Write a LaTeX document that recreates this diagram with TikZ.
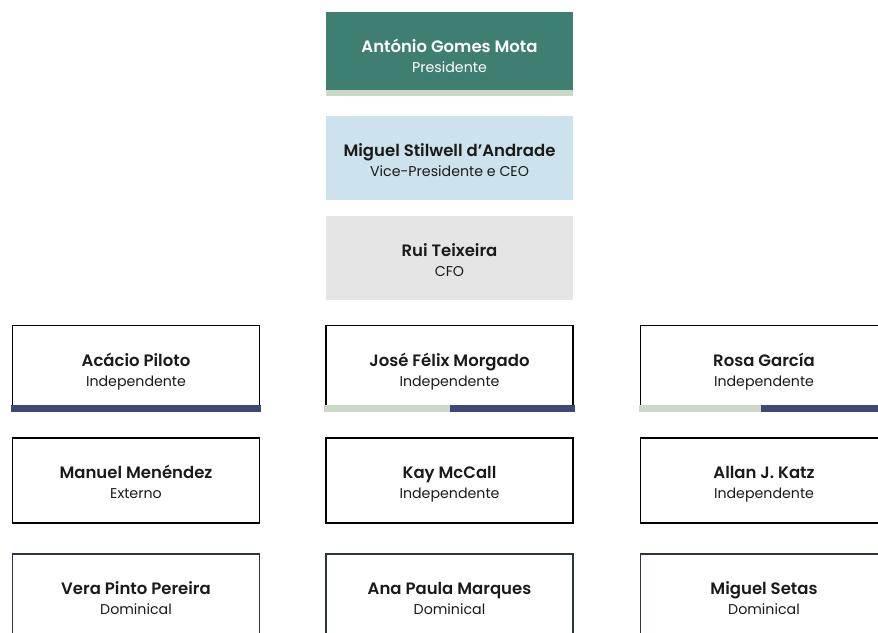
\documentclass[tikz,border=0pt]{standalone}
\usepackage{fontspec}
\setmainfont{Poppins}[BoldFont={Poppins SemiBold}]
\usetikzlibrary{calc}
\definecolor{teal}{HTML}{3F7F72}
\definecolor{lgreen}{HTML}{C9D9C6}
\definecolor{lblue}{HTML}{CCE2EC}
\definecolor{lgrey}{HTML}{E5E5E5}
\definecolor{navy}{HTML}{3B4A74}
\definecolor{dnavy}{HTML}{2B3444}
\definecolor{txt}{HTML}{1A1A1A}
% \cardtext{node}{name}{role}{colour}
\newcommand{\cardtext}[4]{%
  \node[nametext,text=#4] (#1-n) at ($(#1.center)+(0,-2)$) {#2};
  \node[roletext,text=#4] (#1-r) at ($(#1.center)+(0,18)$) {#3};}
\begin{document}
\begin{tikzpicture}[x=1pt,y=-1pt,
  box/.style={minimum width=247pt,minimum height=84pt,inner sep=0pt},
  topbox/.style={box,fill=teal},
  vpbox/.style={box,fill=lblue},
  cfobox/.style={box,fill=lgrey},
  member/.style={box,draw=black,line width=1.6pt,minimum height=85pt},
  dommember/.style={box,draw=dnavy,line width=1.6pt,minimum height=85pt},
  nametext/.style={anchor=base,inner sep=0pt,font=\fontsize{16.5}{20}\selectfont\bfseries},
  roletext/.style={anchor=base,inner sep=0pt,font=\fontsize{14.2}{18}\selectfont},
  barnavy/.style={fill=navy},
  bargreen/.style={fill=lgreen}]
\useasboundingbox (0,0) rectangle (878,632);
\clip (0,0) rectangle (878,632);
% top executives
\node[topbox] (pres) at (449.5,54) {};
\fill[bargreen] (pres.south west) ++(0,-6) rectangle (pres.south east);
\cardtext{pres}{António Gomes Mota}{Presidente}{white}
\node[vpbox] (vp) at (449.5,158) {};
\cardtext{vp}{Miguel Stilwell d’Andrade}{Vice-Presidente e CEO}{txt}
\node[cfobox] (cfo) at (449.5,258) {};
\cardtext{cfo}{Rui Teixeira}{CFO}{txt}
% row 1
\node[member] (ap) at (136,368) {};
\node[member] (jfm) at (449.5,368) {};
\node[member] (rg) at (764,368) {};
\fill[barnavy] ([yshift=0.2pt,xshift=-0.8pt]ap.south west) ++(0,-6.5) rectangle ([yshift=-0.8pt,xshift=0.8pt]ap.south east);
\fill[bargreen] ([yshift=0.2pt,xshift=-0.8pt]jfm.south west) ++(0,-6.5) rectangle ([yshift=-0.8pt]jfm.south);
\fill[barnavy] ([yshift=0.2pt]jfm.south) ++(0,-6.5) rectangle ([yshift=-0.8pt,xshift=0.8pt]jfm.south east);
\fill[bargreen] ([yshift=0.2pt,xshift=-0.8pt]rg.south west) ++(0,-6.5) rectangle ([yshift=-0.8pt,xshift=-3pt]rg.south);
\fill[barnavy] ([yshift=0.2pt,xshift=-3pt]rg.south) ++(0,-6.5) rectangle ([yshift=-0.8pt,xshift=0.8pt]rg.south east);
\cardtext{ap}{Acácio Piloto}{Independente}{txt}
\cardtext{jfm}{José Félix Morgado}{Independente}{txt}
\cardtext{rg}{Rosa García}{Independente}{txt}
% row 2
\node[member] (mm) at (136,480.5) {};
\node[member] (kmc) at (449.5,480.5) {};
\node[member] (ajk) at (764,480.5) {};
\cardtext{mm}{Manuel Menéndez}{Externo}{txt}
\cardtext{kmc}{Kay McCall}{Independente}{txt}
\cardtext{ajk}{Allan J. Katz}{Independente}{txt}
% row 3
\node[dommember] (vpp) at (136,596.5) {};
\node[dommember] (apm) at (449.5,596.5) {};
\node[dommember] (ms) at (764,596.5) {};
\cardtext{vpp}{Vera Pinto Pereira}{Dominical}{txt}
\cardtext{apm}{Ana Paula Marques}{Dominical}{txt}
\cardtext{ms}{Miguel Setas}{Dominical}{txt}
\end{tikzpicture}
\end{document}
